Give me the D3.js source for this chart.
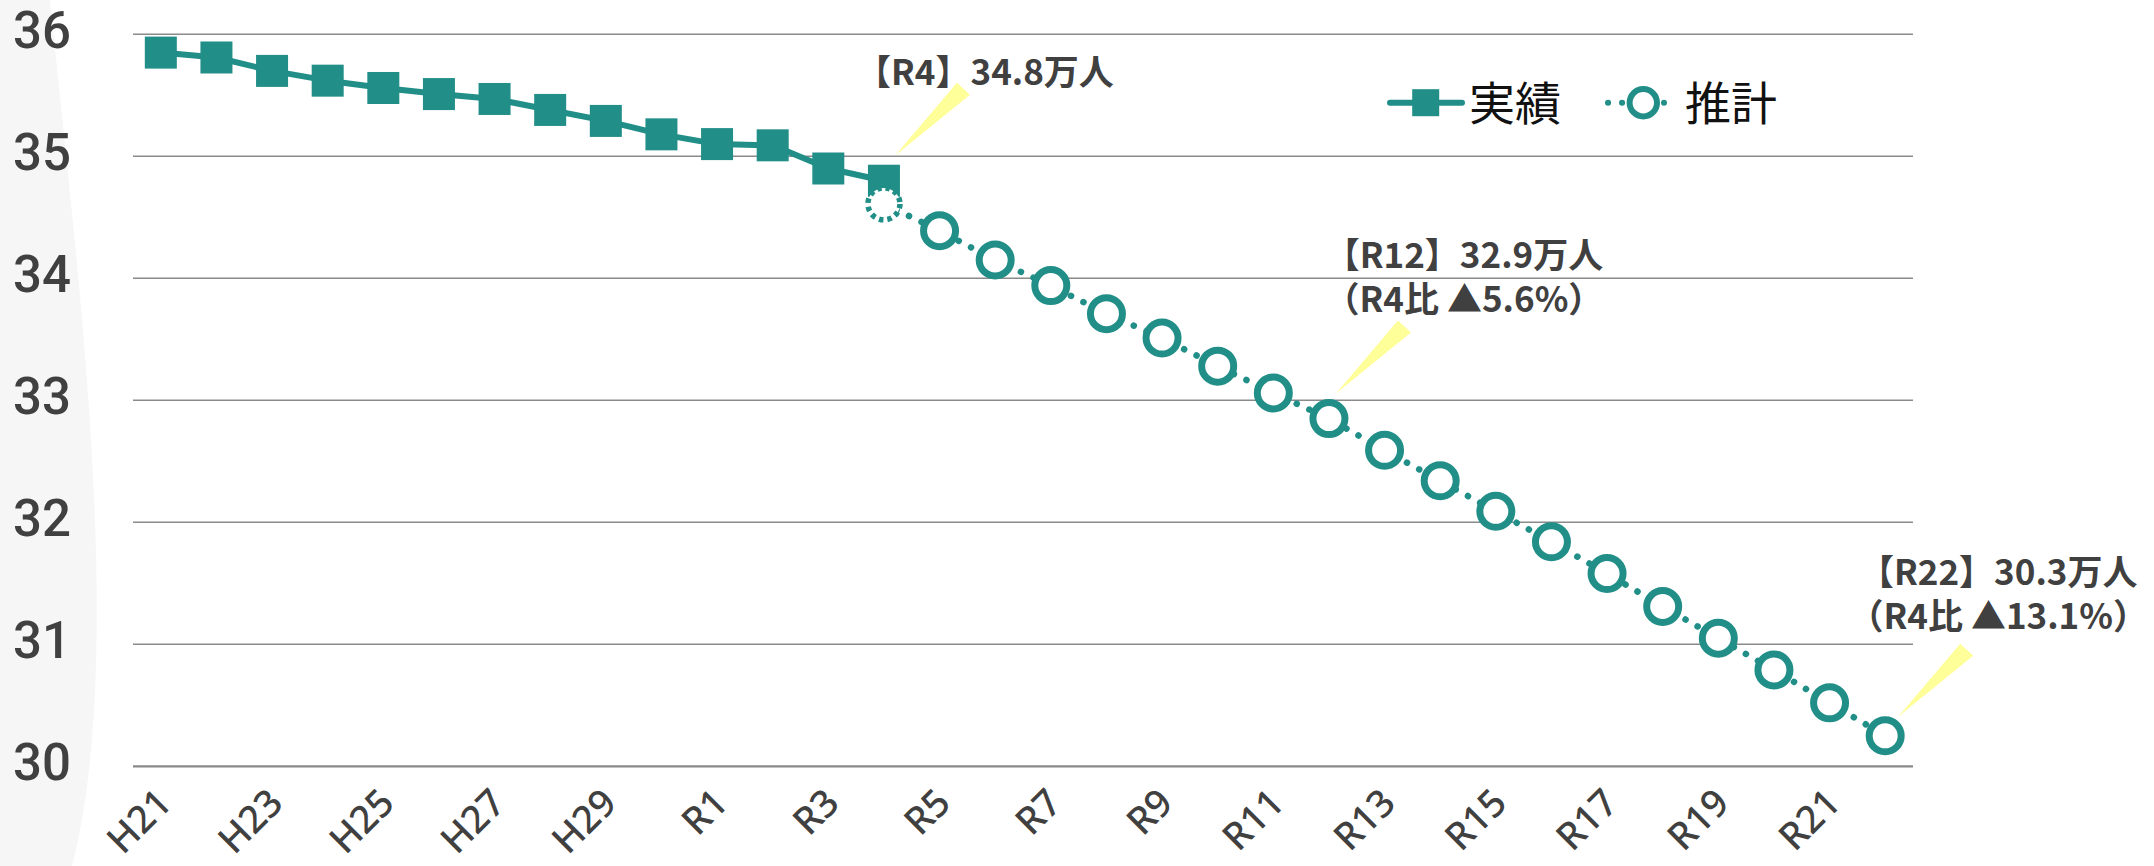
<!DOCTYPE html>
<html>
<head>
<meta charset="utf-8">
<script src="https://cdn.jsdelivr.net/npm/d3@7"></script>
<style>
  html, body { margin: 0; padding: 0; background: #fff; overflow: hidden; }
  svg { display: block; }
</style>
</head>
<body>
<svg id="chart" width="2154" height="866"></svg>
<script>
// Fiscal years (Heisei 21 – Reiwa 22)
const categories = [
  "H21","H22","H23","H24","H25","H26","H27","H28","H29","H30",
  "R1","R2","R3","R4","R5","R6","R7","R8","R9","R10","R11",
  "R12","R13","R14","R15","R16","R17","R18","R19","R20","R21","R22"
];

// Recorded population (万人), H21 – R4
const actualValues = [
  35.85, 35.81, 35.70, 35.62, 35.56, 35.51, 35.47, 35.38, 35.29, 35.18,
  35.10, 35.09, 34.90, 34.80
];

// Projected population (万人), R4 – R22
const estimateValues = [
  34.61, 34.39, 34.15, 33.94, 33.71, 33.51, 33.28, 33.06, 32.85, 32.59,
  32.34, 32.09, 31.84, 31.58, 31.31, 31.05, 30.79, 30.52, 30.25
];

const tickLabels = ["H21","H23","H25","H27","H29","R1","R3","R5","R7","R9",
                    "R11","R13","R15","R17","R19","R21"];
const yTicks = [30, 31, 32, 33, 34, 35, 36];

const seriesNames = ["実績", "推計"];

const actualCats = categories.slice(0, actualValues.length);
const estimateCats = categories.slice(actualValues.length - 1);
const actual = actualCats.map((c, i) => ({ cat: c, value: actualValues[i] }));
const estimate = estimateCats.map((c, i) => ({ cat: c, value: estimateValues[i] }));

const TEAL = "#218e88";
const TEXT = "#404040";

const svg = d3.select("#chart");

const x = d3.scalePoint().domain(categories).range([133, 1913]).padding(0.5);
const y = d3.scaleLinear().domain([30, 36]).range([766.3, 34.3]);

// soft grey band along the left edge
svg.append("path")
  .attr("d", "M0,0 L50,0 C75,250 128,650 72,866 L0,866 Z")
  .attr("fill", "#f6f6f6");

// horizontal gridlines
svg.append("g")
  .selectAll("line")
  .data(yTicks)
  .join("line")
  .attr("x1", 133).attr("x2", 1913)
  .attr("y1", d => y(d)).attr("y2", d => y(d))
  .attr("stroke", "#8a8a8a")
  .attr("stroke-width", d => d === 30 ? 2.2 : 1.4);

// y labels
svg.append("g")
  .selectAll("text")
  .data(yTicks)
  .join("text")
  .attr("x", 71)
  .attr("y", d => y(d) - 4)
  .attr("text-anchor", "end")
  .attr("dominant-baseline", "central")
  .attr("font-family", "Roboto, 'Noto Sans', sans-serif")
  .attr("font-size", 51)
  .attr("font-weight", 500)
  .attr("fill", TEXT)
  .text(d => d);

// x labels, rotated
svg.append("g")
  .selectAll("text")
  .data(tickLabels)
  .join("text")
  .attr("transform", d => `translate(${x(d) + 13},${805}) rotate(-45)`)
  .attr("text-anchor", "end")
  .attr("font-family", "'Noto Sans', sans-serif")
  .attr("font-size", 38)
  .attr("font-weight", 500)
  .attr("fill", TEXT)
  .text(d => d);

const line = d3.line().x(d => x(d.cat)).y(d => y(d.value));

// recorded series
svg.append("path")
  .datum(actual)
  .attr("d", line)
  .attr("fill", "none")
  .attr("stroke", TEAL)
  .attr("stroke-width", 6)
  .attr("stroke-linejoin", "round");

const SQ = 32;
svg.append("g")
  .selectAll("rect")
  .data(actual)
  .join("rect")
  .attr("x", d => x(d.cat) - SQ / 2)
  .attr("y", d => y(d.value) - SQ / 2)
  .attr("width", SQ).attr("height", SQ)
  .attr("fill", TEAL);

// projected series
svg.append("path")
  .datum(estimate)
  .attr("d", line)
  .attr("fill", "none")
  .attr("stroke", TEAL)
  .attr("stroke-width", 6.5)
  .attr("stroke-linecap", "round")
  .attr("stroke-dasharray", "0.1 13.8");

svg.append("g")
  .selectAll("circle")
  .data(estimate)
  .join("circle")
  .attr("cx", d => x(d.cat))
  .attr("cy", d => y(d.value))
  .attr("r", 16)
  .attr("fill", "#fff")
  .attr("stroke", TEAL)
  .attr("stroke-width", (d, i) => i === 0 ? 5.5 : 7)
  .attr("stroke-dasharray", (d, i) => i === 0 ? "4.5 4" : null);

// callouts
const base = actualValues[actualValues.length - 1];
const pct = v => ((1 - v / base) * 100).toFixed(1);
const valueAt = cat => {
  const e = estimate.find(d => d.cat === cat);
  return e ? e.value : actual.find(d => d.cat === cat).value;
};
const annotations = [
  { cat: "R4", series: "actual", tip: [11, -25], cx: 101, baselines: [-96],
    lines: [`【R4】${base.toFixed(1)}万人`] },
  { cat: "R12", series: "estimate", tip: [7, -25], cx: 135, baselines: [-151, -107],
    lines: [`【R12】${valueAt("R12").toFixed(1)}万人`, `（R4比 ▲${pct(valueAt("R12"))}%）`] },
  { cat: "R22", series: "estimate", tip: [13, -19], cx: 113, baselines: [-151, -107],
    lines: [`【R22】${valueAt("R22").toFixed(1)}万人`, `（R4比 ▲${pct(valueAt("R22"))}%）`] }
];

annotations.forEach(a => {
  const v = a.series === "actual" ? actual.find(d => d.cat === a.cat).value : valueAt(a.cat);
  const px = x(a.cat), py = y(v);
  const tx = px + a.tip[0], ty = py + a.tip[1];
  svg.append("polygon")
    .attr("points", [[tx, ty], [tx + 62, ty - 73], [tx + 75, ty - 61]].map(p => p.join(",")).join(" "))
    .attr("fill", "#ffff99");
  a.lines.forEach((t, i) => {
    svg.append("text")
      .attr("x", px + a.cx)
      .attr("y", py + a.baselines[i])
      .attr("text-anchor", "middle")
      .attr("font-family", "'Noto Sans CJK JP', sans-serif")
      .attr("font-size", 35)
      .attr("font-weight", 700)
      .attr("fill", TEXT)
      .text(t);
  });
});

// legend
const legend = svg.append("g");
const ly = 102.7;
legend.append("line")
  .attr("x1", 1390).attr("x2", 1462).attr("y1", ly).attr("y2", ly)
  .attr("stroke", TEAL).attr("stroke-width", 6).attr("stroke-linecap", "round");
legend.append("rect")
  .attr("x", 1425.7 - 13.5).attr("y", ly - 13.5).attr("width", 27).attr("height", 27)
  .attr("fill", TEAL);
legend.append("text")
  .attr("x", 1469).attr("y", 100)
  .attr("dominant-baseline", "central")
  .attr("font-family", "'Noto Sans CJK JP', sans-serif")
  .attr("font-size", 46)
  .attr("fill", "#111")
  .text(seriesNames[0]);

legend.append("line")
  .attr("x1", 1608).attr("x2", 1664).attr("y1", ly).attr("y2", ly)
  .attr("stroke", TEAL).attr("stroke-width", 6).attr("stroke-linecap", "round")
  .attr("stroke-dasharray", "0.1 13.9");
legend.append("circle")
  .attr("cx", 1643.3).attr("cy", ly).attr("r", 13.7)
  .attr("fill", "#fff").attr("stroke", TEAL).attr("stroke-width", 6);
legend.append("text")
  .attr("x", 1685).attr("y", 100)
  .attr("dominant-baseline", "central")
  .attr("font-family", "'Noto Sans CJK JP', sans-serif")
  .attr("font-size", 46)
  .attr("fill", "#111")
  .text(seriesNames[1]);
</script>
</body>
</html>
